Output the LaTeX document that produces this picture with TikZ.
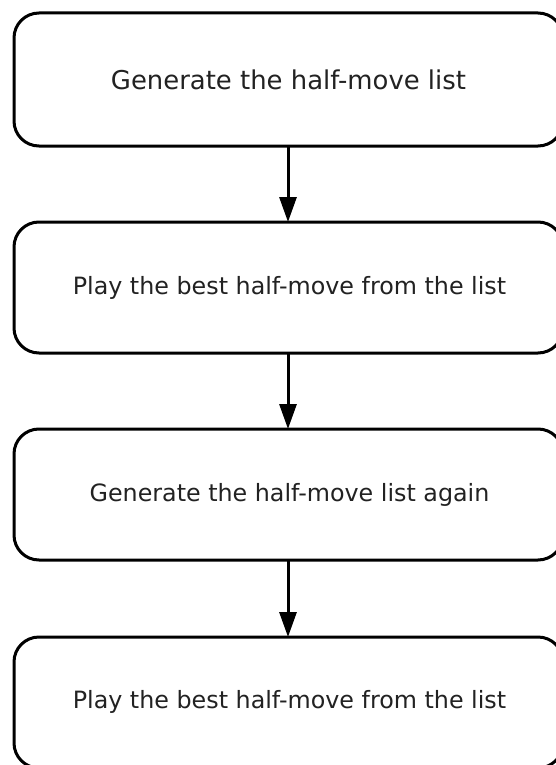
\documentclass[tikz,border=0pt]{standalone}
\usepackage{fontspec}
\setmainfont{DejaVu Sans}
\usetikzlibrary{arrows.meta}
\definecolor{txt}{HTML}{222222}
\tikzset{
  stepbox/.style={draw=black, line width=3pt, rounded corners=25pt, fill=white},
  flowarrow/.style={draw=black, line width=3pt, -{Triangle[length=25pt,width=17pt]}},
  lbl/.style={text=txt, inner sep=0pt, anchor=center},
}
\begin{document}
\begin{tikzpicture}[x=1pt,y=-1pt]
\useasboundingbox (0,0) rectangle (556,765);
\clip (0,0) rectangle (556,765);
\fill[white] (0,0) rectangle (556,765);
% boxes
\draw[stepbox] (14,13) rectangle (563,146);
\draw[stepbox] (14,222) rectangle (563,353);
\draw[stepbox] (14,429) rectangle (563,560);
\draw[stepbox] (14,637) rectangle (563,768);
% nodes
\node[lbl, font=\fontsize{25.9}{30}\selectfont] (b1) at (288.5,79.5) {Generate the half-move list};
\node[lbl, font=\fontsize{23.8}{28}\selectfont] (b2) at (289.5,287.5) {Play the best half-move from the list};
\node[lbl, font=\fontsize{23.8}{28}\selectfont] (b3) at (289.5,494.5) {Generate the half-move list again};
\node[lbl, font=\fontsize{23.8}{28}\selectfont] (b4) at (289.5,702) {Play the best half-move from the list};
\coordinate (a1s) at (288,146);
\coordinate (a1e) at (288,222);
\coordinate (a2s) at (288,353);
\coordinate (a2e) at (288,429);
\coordinate (a3s) at (288,560);
\coordinate (a3e) at (288,637);
\draw[flowarrow] (a1s) -- (a1e);
\draw[flowarrow] (a2s) -- (a2e);
\draw[flowarrow] (a3s) -- (a3e);
\end{tikzpicture}
\end{document}
